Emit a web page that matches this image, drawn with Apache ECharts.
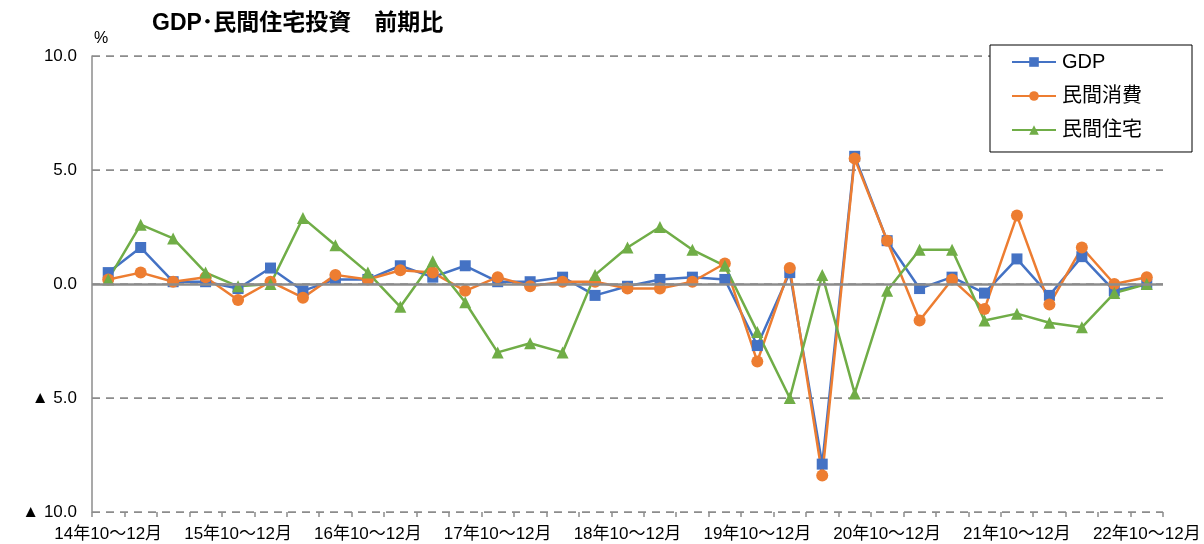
<!DOCTYPE html>
<html>
<head>
<meta charset="utf-8">
<style>
  html, body { margin: 0; padding: 0; background: #fff; }
  #chart { width: 1204px; height: 544px; }
</style>
<script src="https://cdn.jsdelivr.net/npm/echarts@6/dist/echarts.min.js"></script>
</head>
<body>
<div id="chart"></div>
<script>
// Quarterly periods, 2014 Q4 to 2022 Q4
const quarters = [
  '14年10～12月', '15年1～3月', '15年4～6月', '15年7～9月',
  '15年10～12月', '16年1～3月', '16年4～6月', '16年7～9月',
  '16年10～12月', '17年1～3月', '17年4～6月', '17年7～9月',
  '17年10～12月', '18年1～3月', '18年4～6月', '18年7～9月',
  '18年10～12月', '19年1～3月', '19年4～6月', '19年7～9月',
  '19年10～12月', '20年1～3月', '20年4～6月', '20年7～9月',
  '20年10～12月', '21年1～3月', '21年4～6月', '21年7～9月',
  '21年10～12月', '22年1～3月', '22年4～6月', '22年7～9月',
  '22年10～12月'
];

// Quarter-on-quarter change (%)
const gdp = [
  0.5, 1.6, 0.1, 0.1, -0.2, 0.7, -0.3, 0.2, 0.2, 0.8, 0.3,
  0.8, 0.1, 0.1, 0.3, -0.5, -0.1, 0.2, 0.3, 0.2, -2.7, 0.5,
  -7.9, 5.6, 1.9, -0.2, 0.3, -0.4, 1.1, -0.5, 1.2, -0.3, 0.0
];
const privateConsumption = [
  0.2, 0.5, 0.1, 0.3, -0.7, 0.1, -0.6, 0.4, 0.2, 0.6, 0.5,
  -0.3, 0.3, -0.1, 0.1, 0.1, -0.2, -0.2, 0.1, 0.9, -3.4, 0.7,
  -8.4, 5.5, 1.9, -1.6, 0.2, -1.1, 3.0, -0.9, 1.6, 0.0, 0.3
];
const privateHousing = [
  0.2, 2.6, 2.0, 0.5, -0.1, 0.0, 2.9, 1.7, 0.5, -1.0, 1.0,
  -0.8, -3.0, -2.6, -3.0, 0.4, 1.6, 2.5, 1.5, 0.8, -2.1, -5.0,
  0.4, -4.8, -0.3, 1.5, 1.5, -1.6, -1.3, -1.7, -1.9, -0.4, 0.0
];

const seriesNames = ['GDP', '民間消費', '民間住宅'];
const yTicks = { min: -10, max: 10, step: 5 };

const FONT = "'Liberation Sans', 'Noto Sans CJK JP', sans-serif";
const GRID_GRAY = '#8c8c8c';

function lineSeries(name, data, color, symbol, size) {
  return {
    name: name,
    type: 'line',
    data: data,
    z: 3,
    symbol: symbol,
    symbolSize: size,
    showAllSymbol: true,
    lineStyle: { color: color, width: 2.5 },
    itemStyle: { color: color },
    emphasis: { disabled: true },
    animation: false
  };
}

const chart = echarts.init(document.getElementById('chart'), null, { renderer: 'canvas' });

chart.setOption({
  backgroundColor: '#ffffff',
  animation: false,
  textStyle: { fontFamily: FONT },
  title: {
    text: 'GDP･民間住宅投資　前期比',
    left: 152,
    top: 12,
    padding: 0,
    textStyle: { fontFamily: FONT, fontSize: 23, fontWeight: 'bold', color: '#000' }
  },
  legend: {
    data: seriesNames,
    orient: 'vertical',
    left: 990,
    top: 45,
    itemWidth: 44,
    itemHeight: 12,
    itemGap: 14,
    padding: [7, 50, 12, 21],
    borderColor: '#000',
    borderWidth: 1,
    backgroundColor: '#fff',
    textStyle: { fontFamily: FONT, fontSize: 20, color: '#000', padding: [0, 0, 0, 1] }
  },
  grid: { left: 92, right: 41, top: 56, bottom: 32 },
  xAxis: {
    type: 'category',
    data: quarters,
    boundaryGap: true,
    axisLine: { show: false, onZero: false },
    axisTick: {
      show: true,
      length: 5,
      interval: 0,
      lineStyle: { color: GRID_GRAY, width: 1.5 }
    },
    axisLabel: {
      interval: 3,
      fontSize: 17,
      color: '#000',
      margin: 14,
      fontFamily: FONT
    },
    splitLine: { show: false }
  },
  yAxis: {
    type: 'value',
    min: yTicks.min,
    max: yTicks.max,
    interval: yTicks.step,
    name: '%',
    nameLocation: 'end',
    nameGap: 9,
    nameTextStyle: { fontSize: 16, color: '#000', align: 'left', fontFamily: FONT, padding: [0, 0, 0, 2] },
    axisLine: { show: true, lineStyle: { color: GRID_GRAY, width: 1.5 } },
    axisTick: { show: false },
    axisLabel: {
      fontSize: 17,
      color: '#000',
      margin: 15,
      fontFamily: FONT,
      formatter: function (v) {
        if (v === 0) return '0.0';
        return v < 0 ? '▲ ' + Math.abs(v).toFixed(1) : v.toFixed(1);
      }
    },
    splitLine: {
      show: true,
      lineStyle: { color: GRID_GRAY, width: 1.75, type: [8, 6] }
    }
  },
  series: [
    {
      name: 'zero',
      type: 'line',
      data: [],
      z: 1,
      silent: true,
      markLine: {
        silent: true,
        symbol: 'none',
        label: { show: false },
        lineStyle: { color: GRID_GRAY, width: 2.5, type: 'solid' },
        data: [{ yAxis: 0 }],
        animation: false
      }
    },
    lineSeries(seriesNames[0], gdp, '#4472C4', 'rect', 11),
    lineSeries(seriesNames[1], privateConsumption, '#ED7D31', 'circle', 12),
    lineSeries(seriesNames[2], privateHousing, '#70AD47', 'triangle', 12)
  ]
});
</script>
</body>
</html>
